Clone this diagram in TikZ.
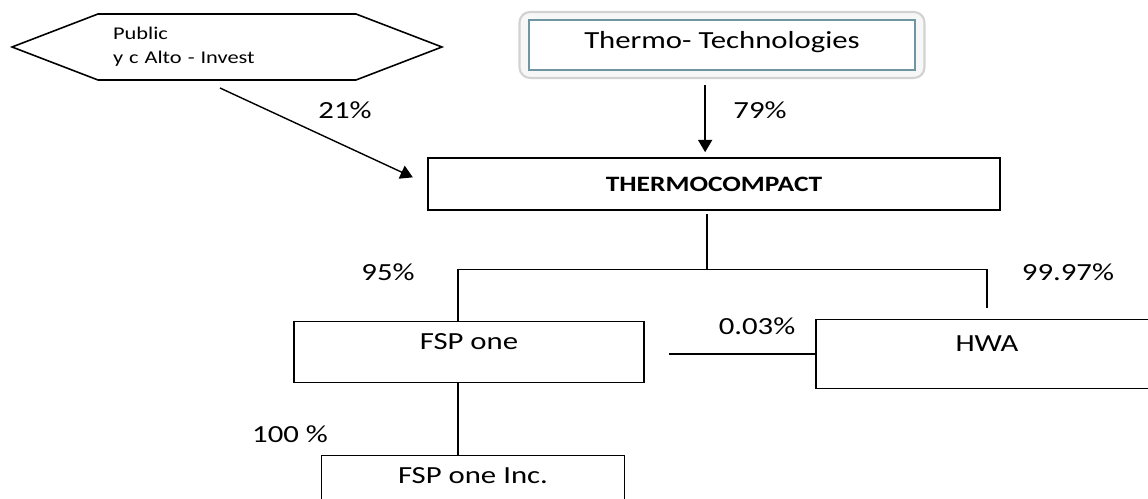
\documentclass[tikz,border=0pt]{standalone}
\usepackage{fontspec}
\setmainfont{Carlito}[FakeStretch=1.25]
\usetikzlibrary{arrows.meta,shapes.symbols}
\definecolor{rimblue}{RGB}{111,149,163}

\begin{document}
\begin{tikzpicture}[x=0.02cm, y=-0.02cm,
  font=\fontsize{14}{16}\selectfont,
  unit/.style = {draw, line width=1pt, inner sep=0pt},
  hexa/.style = {draw, line width=0.9pt, signal, signal to=west and east, signal pointer angle=42, inner sep=0pt, minimum width=8.6cm, minimum height=1.32cm, text width=4.56cm, align=left, font=\fontsize{10.2}{13.6}\selectfont},
  pct/.style = {inner sep=0pt},
  own/.style = {line width=0.8pt},
  arr/.style = {line width=0.8pt, -{Triangle[width=8pt,length=7pt]}}]
\path[use as bounding box, clip] (0,0) rectangle (1148,499);

\node[hexa] (pub) at (227,47) {Public\\y c Alto - Invest};
\node[draw=gray!35, fill=gray!6, line width=1.2pt, rounded corners=6pt, minimum width=8.1cm, minimum height=1.32cm] (ttrim) at (722,45) {};
\node[draw=rimblue, fill=white, line width=1.4pt, minimum width=7.72cm, minimum height=1cm, text depth=6pt, inner sep=0pt] (tt) at (722,45) {Thermo- Technologies};
\node[unit, minimum width=11.44cm, minimum height=1.04cm, font=\fontsize{12.5}{15}\selectfont\bfseries] (tc) at (714,184) {THERMOCOMPACT};
\node[unit, minimum width=7cm, minimum height=1.22cm, text depth=12pt] (fsp) at (469,352) {FSP one};
\node[unit, minimum width=6.84cm, minimum height=1.38cm, text depth=12pt] (hwa) at (987,354) {HWA};
\node[unit, minimum width=6.06cm, minimum height=1.22cm, text depth=12pt] (inc) at (473,486) {FSP one Inc.};

\coordinate (pubout) at (220,88);
\draw[arr, shorten <=8pt, shorten >=2.8pt] ([xshift=-9.6pt]tt.south) -- ([xshift=-9.6pt]tt.south |- tc.north);
\draw[arr, shorten >=9pt] (pubout) -- (tc.west);
\draw[own] ([xshift=-4pt, yshift=-2pt]tc.south) -- ++(0,55) coordinate (bus);
\draw[own] ([xshift=-6.2pt]fsp.north) |- (bus) -| ([yshift=6pt]hwa.north);
\draw[own] (hwa.west) -- ([xshift=13.6pt]fsp.east |- hwa.west);
\draw[own] ([xshift=-6.2pt]fsp.south) -- ([xshift=-6.2pt]fsp.south |- inc.north);

\node[pct] (p21) at (345,110) {21\%};
\node[pct] (p79) at (760,110) {79\%};
\node[pct] (p95) at (388,272) {95\%};
\node[pct] (p9997) at (1068,272) {99.97\%};
\node[pct] (p003) at (757,326) {0.03\%};
\node[pct] (p100) at (290,434) {100 \%};
\end{tikzpicture}
\end{document}
